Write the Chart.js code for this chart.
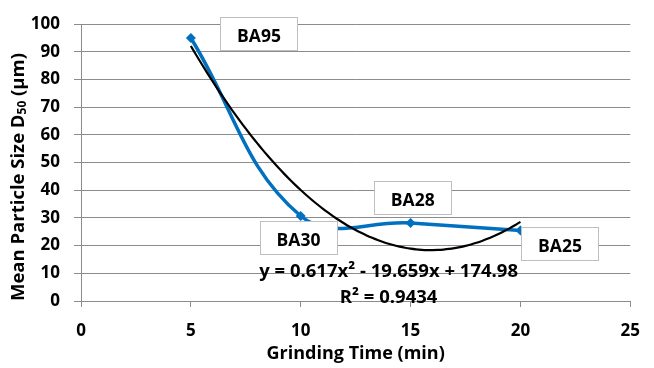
<!DOCTYPE html>
<html>
<head>
<meta charset="utf-8">
<script src="https://cdn.jsdelivr.net/npm/chart.js@4/dist/chart.umd.min.js"></script>
<style>
    body { margin: 0; background: #fff; }
    #wrap { width: 654px; height: 368px; }
</style>
</head>
<body>
<div id="wrap"><canvas id="chartCanvas" width="654" height="368"></canvas></div>
<script>
// grinding time (min) vs mean particle size D50 (um)
const grindTimes = [5, 10, 15, 20]
const d50Sizes = [95, 30.7, 28.2, 25.5]
const sampleNames = ['BA95', 'BA30', 'BA28', 'BA25']
// where each sample name box sits, in axis units
const nameBoxX = [8.1, 9.9, 15.1, 21.8]
const nameBoxY = [96.6, 22.9, 37.3, 20.6]
// polynomial trendline y = a x^2 + b x + c
const trendCoef = [0.617, -19.659, 174.98]
const trendText = 'y = 0.617x\u00B2 - 19.659x + 174.98'
const r2Text = 'R\u00B2 = 0.9434'
const xTicks = [0, 5, 10, 15, 20, 25]
const yTicks = [0, 10, 20, 30, 40, 50, 60, 70, 80, 90, 100]

const FONT = '"Open Sans", "DejaVu Sans", sans-serif'
const gridColor = '#8c8c8c'

let trendPoints = []
for (let x = grindTimes[0]; x <= grindTimes[grindTimes.length - 1]; x += 0.25) {
    trendPoints.push({x: x, y: trendCoef[0] * x * x + trendCoef[1] * x + trendCoef[2]})
}

const labelsPlugin = {
    id: 'sampleLabels',
    afterDatasetsDraw: (chart) => {
        const ctx = chart.ctx
        const xs = chart.scales.x
        const ys = chart.scales.y
        ctx.save()
        ctx.font = 'bold 17.5px ' + FONT
        ctx.textAlign = 'center'
        ctx.textBaseline = 'middle'
        sampleNames.forEach((name, i) => {
            const cx = xs.getPixelForValue(nameBoxX[i])
            const cy = ys.getPixelForValue(nameBoxY[i])
            const w = 77, h = 33
            ctx.fillStyle = '#fff'
            ctx.fillRect(Math.round(cx - w / 2) + 0.5, Math.round(cy - h / 2) + 0.5, w, h)
            ctx.strokeStyle = '#bfbfbf'
            ctx.lineWidth = 1
            ctx.strokeRect(Math.round(cx - w / 2) + 0.5, Math.round(cy - h / 2) + 0.5, w, h)
            ctx.fillStyle = '#000'
            ctx.fillText(name, cx, cy + 3)
        })
        // trendline equation
        ctx.font = 'bold 18.5px ' + FONT
        ctx.fillText(trendText, xs.getPixelForValue(14), ys.getPixelForValue(10.5))
        ctx.fillText(r2Text, xs.getPixelForValue(14), ys.getPixelForValue(1.3))
        ctx.restore()
    },
    afterDraw: (chart) => {
        // y title with subscript 50
        const ctx = chart.ctx
        const big = 'bold 18.5px ' + FONT
        const small = 'bold 12px ' + FONT
        const parts = [
            {t: 'Mean Particle Size D', f: big, dy: 0},
            {t: '50', f: small, dy: 4},
            {t: ' (\u00B5m)', f: big, dy: 0}
        ]
        ctx.save()
        let total = 0
        parts.forEach(p => { ctx.font = p.f; total += ctx.measureText(p.t).width })
        ctx.translate(19, 177)
        ctx.rotate(-Math.PI / 2)
        ctx.fillStyle = '#000'
        ctx.textBaseline = 'middle'
        ctx.textAlign = 'left'
        let pos = -total / 2
        parts.forEach(p => {
            ctx.font = p.f
            ctx.fillText(p.t, pos, p.dy)
            pos += ctx.measureText(p.t).width
        })
        ctx.restore()
    }
}

new Chart(document.getElementById('chartCanvas'), {
    type: 'line',
    data: {
        datasets: [
            {
                label: 'D50',
                data: grindTimes.map((t, i) => ({x: t, y: d50Sizes[i]})),
                borderColor: '#0070C0',
                backgroundColor: '#0070C0',
                borderWidth: 3.5,
                tension: 0.4,
                pointStyle: 'rectRot',
                pointRadius: 5,
                pointBorderWidth: 0,
                order: 2
            },
            {
                label: 'Trend',
                data: trendPoints,
                borderColor: '#000',
                borderWidth: 2.2,
                pointRadius: 0,
                tension: 0.3,
                order: 1
            }
        ]
    },
    options: {
        responsive: false,
        animation: false,
        layout: { padding: { top: 18, right: 13, left: 0, bottom: 0 } },
        plugins: { legend: { display: false }, tooltip: { enabled: false } },
        scales: {
            x: {
                type: 'linear',
                min: 0,
                max: 25,
                afterBuildTicks: (s) => { s.ticks = xTicks.map(v => ({value: v})) },
                afterFit: (s) => { s.height = 67 },
                grid: { drawOnChartArea: false, color: gridColor, tickLength: 6 },
                border: { color: gridColor },
                ticks: { color: '#000', padding: 14, font: { family: FONT, weight: 'bold', size: 17 } },
                title: {
                    display: true,
                    text: 'Grinding Time (min)',
                    color: '#000',
                    padding: { top: 0, bottom: 3 },
                    font: { family: FONT, weight: 'bold', size: 18 }
                }
            },
            y: {
                min: 0,
                max: 100,
                afterBuildTicks: (s) => { s.ticks = yTicks.map(v => ({value: v})) },
                afterFit: (s) => { s.width = 81 },
                grid: { color: gridColor, tickLength: 7 },
                border: { color: gridColor },
                ticks: { color: '#000', padding: 14, font: { family: FONT, weight: 'bold', size: 17 } }
            }
        }
    },
    plugins: [labelsPlugin]
})
</script>
</body>
</html>
